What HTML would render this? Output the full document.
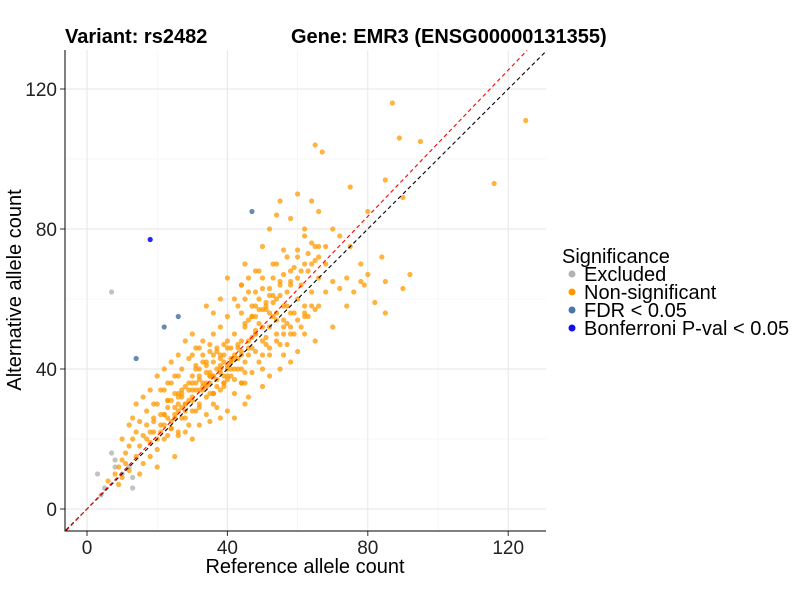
<!DOCTYPE html>
<html><head><meta charset="utf-8"><style>
body{margin:0;background:#fff;font-family:"Liberation Sans",Arial,sans-serif}
svg text{font-family:"Liberation Sans",Arial,sans-serif}
</style></head><body>
<svg id="chart" width="800" height="600" xmlns="http://www.w3.org/2000/svg">
<rect width="800" height="600" fill="#fff"/>
<g id="grid"></g>
<g id="refs"></g>
<g id="pts"></g>
<g id="axes"></g>
<text x="65" y="43" font-size="20" font-weight="bold" fill="#000">Variant: rs2482</text>
<text x="291" y="43" font-size="20" font-weight="bold" fill="#000">Gene: EMR3 (ENSG00000131355)</text>
<text x="305" y="573" font-size="20" text-anchor="middle" fill="#000">Reference allele count</text>
<text transform="translate(21,290) rotate(-90)" font-size="20" text-anchor="middle" fill="#000">Alternative allele count</text>
<g>
<text x="562" y="263" font-size="20">Significance</text>
<circle cx="572" cy="274" r="3.5" fill="#b3b3b3"/>
<text x="584" y="281" font-size="20">Excluded</text>
<circle cx="572" cy="292" r="3.5" fill="#ff9900"/>
<text x="584" y="299" font-size="20">Non-significant</text>
<circle cx="572" cy="310" r="3.5" fill="#4a76a8"/>
<text x="584" y="317" font-size="20">FDR &lt; 0.05</text>
<circle cx="572" cy="328" r="3.5" fill="#1010ee"/>
<text x="584" y="335" font-size="20">Bonferroni P-val &lt; 0.05</text>
</g>
</svg>
<script>
const xTicks=[0,40,80,120];
const yTicks=[0,40,80,120];
const minorTicks=[20,60,100];
const exclX=[3,5,7,8,8,7,12,13,13,10,4];
const exclY=[10,6,16,14,12,62,12,6,9,10,4];
const fdrX=[14,22,26,47];
const fdrY=[43,52,55,85];
const bonfX=[18];
const bonfY=[77];
const nsX=[87,125,116,65,67,89,95,85,90,75,82,92,90,85,80,85,6,8,9,10,10,11,12,12,13,14,14,15,15,16,16,17,17,18,18,19,19,20,20,21,21,22,22,23,23,24,24,25,25,26,26,27,27,28,28,29,29,30,30,31,31,32,32,33,33,34,34,35,35,36,36,37,37,38,38,39,39,40,40,41,41,42,42,43,43,44,44,45,45,46,46,47,47,48,48,49,49,50,50,51,51,52,52,53,53,54,54,55,55,56,56,57,57,58,59,60,60,61,62,62,63,64,65,66,66,68,70,70,72,75,76,78,80,60,55,58,50,45,40,38,36,34,30,28,26,24,22,20,18,16,14,12,10,25,30,35,40,45,50,55,60,65,70,20,15,28,32,38,42,46,52,58,62,48,44,42,52,54,64,62,68,72,74,78,74,66,58,56,50,44,36,32,27,23,19,17,13,11,9,33,37,39,41,43,39,35,31,29,27,25,23,21,36,38,40,42,44,46,48,50,52,54,56,40,34,32,30,28,26,44,46,48,58,60,62,64,66,68,84,79,24,22,26,36,38,42,30,32,
33,34,35,36,37,38,39,40,41,42,43,44,45,46,47,48,34,35,36,37,38,39,40,41,42,43,44,45,30,31,32,33,34,35,36,37,38,39,40,41,26,27,28,29,30,31,32,33,34,35,36,22,23,24,25,26,27,28,29,30,31,18,19,20,21,22,23,24,25,26,47,48,49,50,51,52,53,54,55,56,57,58,44,45,46,47,48,49,50,51,52,53,54,55,56,57,58,59,60,61,62,63,64,65,66,50,52,54,56,58,60,62,64,57,59,61,63,65,45,47,49,51,53];
const nsY=[116,111,93,104,102,106,105,94,89,92,59,67,63,56,67,65,8,10,12,14,9,16,18,11,20,22,15,25,18,21,13,28,24,19,15,26,22,30,17,27,34,24,20,29,36,31,23,27,38,33,21,29,40,35,26,31,43,38,28,34,46,40,30,36,48,42,27,38,45,33,50,40,29,44,52,36,47,41,55,38,46,33,50,43,58,40,48,36,52,44,62,49,39,55,45,60,42,52,66,47,58,63,44,55,70,50,60,65,47,58,74,53,62,68,56,72,60,64,78,55,68,62,75,85,58,70,65,80,63,75,62,70,85,90,88,83,75,70,66,60,56,58,50,48,44,42,40,38,34,32,30,24,20,15,20,25,28,30,35,40,45,48,52,12,10,22,24,26,26,32,38,42,50,68,64,60,80,84,88,80,75,78,66,65,58,66,50,44,40,36,30,34,34,26,30,20,26,13,7,42,46,42,43,46,38,36,40,36,32,33,31,22,44,34,37,40,44,46,50,48,52,56,54,48,36,38,32,30,28,56,54,58,64,66,58,70,72,62,72,64,36,34,38,38,40,44,44,46,
44,41,47,42,45,39,44,46,40,43,47,45,42,48,46,50,35,39,33,37,41,35,38,42,37,40,36,39,36,41,37,34,39,33,38,35,43,36,40,42,30,33,28,34,31,36,29,35,32,38,33,27,31,25,29,32,26,30,24,34,28,22,25,20,24,27,21,23,26,22,55,51,53,57,49,56,59,54,61,52,58,56,64,60,66,58,62,68,63,57,61,66,70,64,67,72,65,69,74,68,70,73,76,71,75,44,46,48,50,52,54,56,58,47,50,52,55,57,53,55,57,59,61];
const NS="http://www.w3.org/2000/svg";
const L=65,R=546,T=50,B=531;
const sx=v=>87+v*3.51, sy=v=>509-v*3.5;
function mk(tag,attrs,parent){const e=document.createElementNS(NS,tag);for(const k in attrs)e.setAttribute(k,attrs[k]);parent.appendChild(e);return e;}
const grid=document.getElementById('grid'),refs=document.getElementById('refs'),pts=document.getElementById('pts'),axes=document.getElementById('axes');
minorTicks.forEach(v=>{
 const a=mk('line',{x1:sx(v),x2:sx(v),y1:T,y2:B,stroke:'#f0f0f0','stroke-width':0.6},grid);
 
 
 const b=mk('line',{x1:L,x2:R,y1:sy(v),y2:sy(v),stroke:'#f0f0f0','stroke-width':0.6},grid);
 
 
});
xTicks.forEach(v=>{
 const a=mk('line',{x1:sx(v),x2:sx(v),y1:T,y2:B,stroke:'#e6e6e6','stroke-width':1},grid);
 
 
 const t=mk('line',{x1:sx(v),x2:sx(v),y1:B,y2:B+5,stroke:'#333'},axes);
 
 
 const l=mk('text',{x:sx(v),y:B+23,'font-size':19,'text-anchor':'middle',fill:'#222'},axes);
 l.textContent=v;
 
 
});
yTicks.forEach(v=>{
 const a=mk('line',{x1:L,x2:R,y1:sy(v),y2:sy(v),stroke:'#e6e6e6','stroke-width':1},grid);
 
 
 const t=mk('line',{x1:L-5,x2:L,y1:sy(v),y2:sy(v),stroke:'#333'},axes);
 
 
 const l=mk('text',{x:L-8,y:sy(v)+7,'font-size':19,'text-anchor':'end',fill:'#222'},axes);
 l.textContent=v;
 
 
});
const ax=mk('path',{d:`M${L},${T} V${B} H${R}`,fill:'none',stroke:'#000','stroke-width':1},axes);


function group(xs,ys,col,op,name){
 xs.forEach((x,i)=>{
  if(ys[i]===undefined) return;
  const c=mk('circle',{cx:sx(x),cy:sy(ys[i]),r:2.6,fill:col,'fill-opacity':op},pts);
  
  
 });
}
group(exclX,exclY,'#b3b3b3',0.8,'point-excluded');
group(nsX,nsY,'#ff9900',0.75,'point-nonsignificant');
group(fdrX,fdrY,'#4a76a8',0.85,'point-fdr');
group(bonfX,bonfY,'#1010ee',0.9,'point-bonferroni');
const x0=-6,y0=-6;
const d1=mk('line',{x1:sx(x0),y1:sy(y0),x2:sx(131),y2:sy(131),stroke:'#000','stroke-dasharray':'4,3','stroke-width':1.1},refs);


const d2=mk('line',{x1:sx(x0),y1:sy(y0*1.04),x2:sx(131/1.045),y2:sy(131),stroke:'#ff0000','stroke-dasharray':'4,3','stroke-width':1.1},refs);


document.getElementById('chart').appendChild(refs);
document.getElementById('chart').appendChild(axes);
</script>
</body></html>
